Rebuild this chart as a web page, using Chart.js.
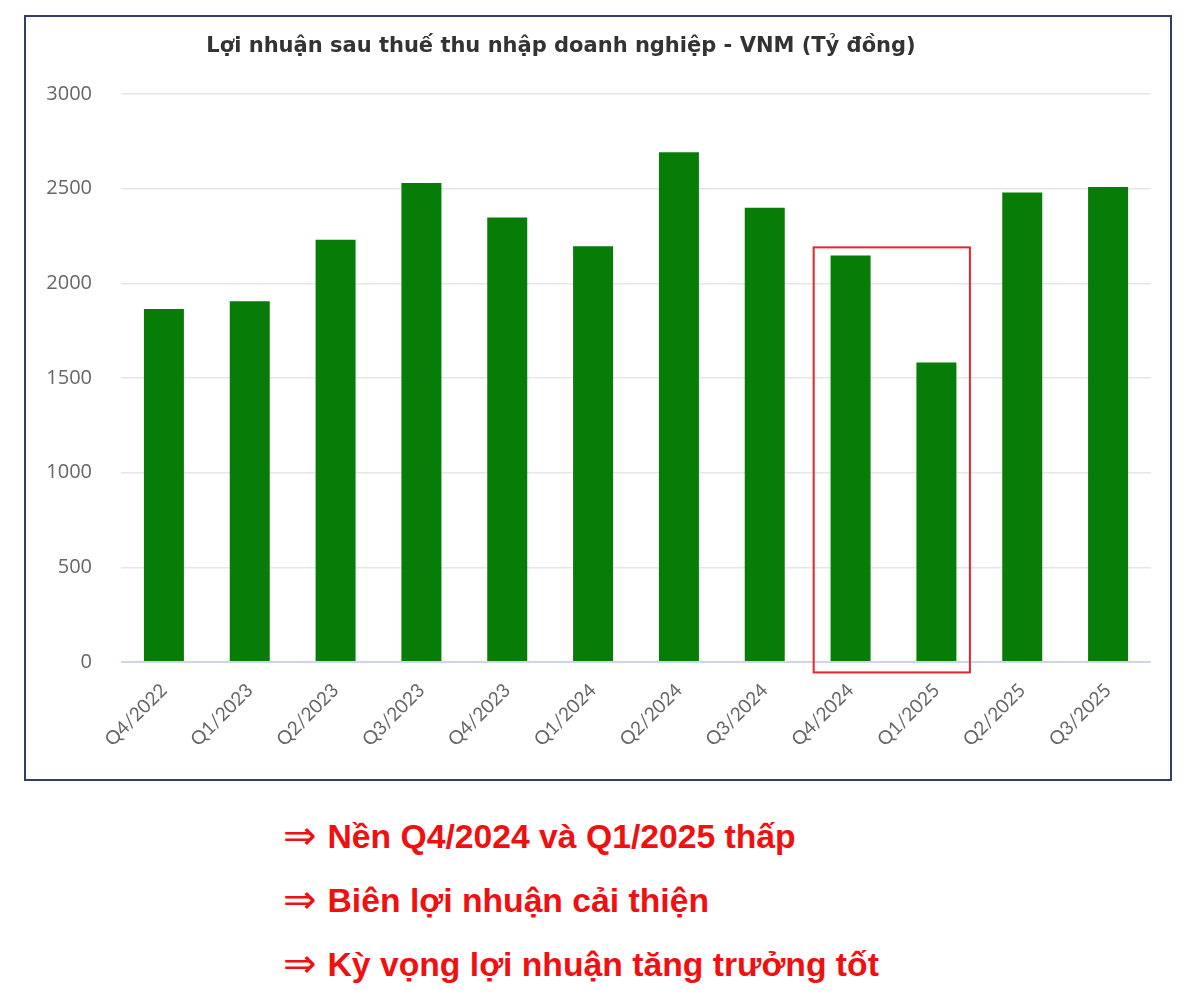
<!DOCTYPE html>
<html>
<head>
<meta charset="utf-8">
<script src="https://cdn.jsdelivr.net/npm/chart.js@4.4.1/dist/chart.umd.min.js"></script>
<style>
  html, body { margin: 0; padding: 0; background: #ffffff; width: 1200px; height: 1006px; overflow: hidden; }
  #frame { position: absolute; left: 24px; top: 15px; width: 1148px; height: 766px; border: 2px solid #2f3e6e; box-sizing: border-box; background: #fff; }
  #wrap { position: absolute; left: 0; top: 0; width: 1144px; height: 762px; }
  #title { position: absolute; left: 0; top: 16px; width: 1070px; text-align: center; font-family: "DejaVu Sans", sans-serif; font-weight: bold; font-size: 21px; color: #333333; white-space: nowrap; }
  .note { position: absolute; left: 283px; font-family: "Liberation Sans", Arial, sans-serif; font-weight: bold; font-size: 33.7px; color: #f01010; white-space: nowrap; }
  .note .arr { font-family: "DejaVu Sans", sans-serif; font-weight: normal; font-size: 40px; margin-right: 11px; position: relative; top: 1px; }
</style>
</head>
<body>
<div id="frame">
  <div id="wrap"><canvas id="c"></canvas></div>
  <div id="title">Lợi nhuận sau thuế thu nhập doanh nghiệp - VNM (Tỷ đồng)</div>
</div>
<div class="note" style="top:811px"><span class="arr">⇒</span>Nền Q4/2024 và Q1/2025 thấp</div>
<div class="note" style="top:875px"><span class="arr">⇒</span>Biên lợi nhuận cải thiện</div>
<div class="note" style="top:939px"><span class="arr">⇒</span>Kỳ vọng lợi nhuận tăng trưởng tốt</div>
<script>
const categories = ['Q4/2022','Q1/2023','Q2/2023','Q3/2023','Q4/2023','Q1/2024','Q2/2024','Q3/2024','Q4/2024','Q1/2025','Q2/2025','Q3/2025'];
const profits = [1864, 1905, 2230, 2530, 2348, 2196, 2692, 2399, 2147, 1582, 2480, 2509];
const yTicks = [0, 500, 1000, 1500, 2000, 2500, 3000];
const highlightFrom = 'Q4/2024';
const highlightTo = 'Q1/2025';
const highlightTop = 2190;
const highlightBottom = -55;

const highlightPlugin = {
  id: 'highlightBox',
  afterDatasetsDraw(chart) {
    const x = chart.scales.x, y = chart.scales.y, ctx = chart.ctx;
    const i0 = categories.indexOf(highlightFrom), i1 = categories.indexOf(highlightTo);
    const left = x.getPixelForValue(i0 - 0.43);
    const right = x.getPixelForValue(i1 + 0.39);
    const top = y.getPixelForValue(highlightTop);
    const bottom = y.getPixelForValue(highlightBottom);
    ctx.save();
    ctx.strokeStyle = '#e3262b';
    ctx.lineWidth = 2;
    ctx.strokeRect(left, top, right - left, bottom - top);
    ctx.restore();
  }
};

new Chart(document.getElementById('c'), {
  type: 'bar',
  data: {
    labels: categories,
    datasets: [{
      data: profits,
      backgroundColor: '#077c07',
      borderWidth: 0,
      barPercentage: 0.466,
      categoryPercentage: 1.0
    }]
  },
  plugins: [highlightPlugin],
  options: {
    responsive: true,
    maintainAspectRatio: false,
    animation: false,
    layout: { padding: { left: 0, right: 19, top: 77, bottom: 0 } },
    plugins: { legend: { display: false }, tooltip: { enabled: false }, title: { display: false } },
    scales: {
      x: {
        grid: { display: false },
        border: { display: false },
        ticks: { color: '#666666', font: { family: 'Lato', size: 19 }, minRotation: 45, maxRotation: 45, padding: 9 },
        afterFit(s) { s.height = 117; }
      },
      y: {
        min: 0, max: 3000,
        afterBuildTicks(s) { s.ticks = yTicks.map(v => ({ value: v })); },
        grid: {
          color: ctx => (ctx.tick && ctx.tick.value === 0) ? '#ccd6eb' : '#e6e6e6',
          lineWidth: ctx => (ctx.tick && ctx.tick.value === 0) ? 2 : 1.5,
          drawTicks: false
        },
        border: { display: false },
        ticks: { color: '#666666', font: { family: 'Open Sans', size: 20 }, padding: 29, callback: v => String(v) },
        afterFit(s) { s.width = 95; }
      }
    }
  }
});
</script>
</body>
</html>
